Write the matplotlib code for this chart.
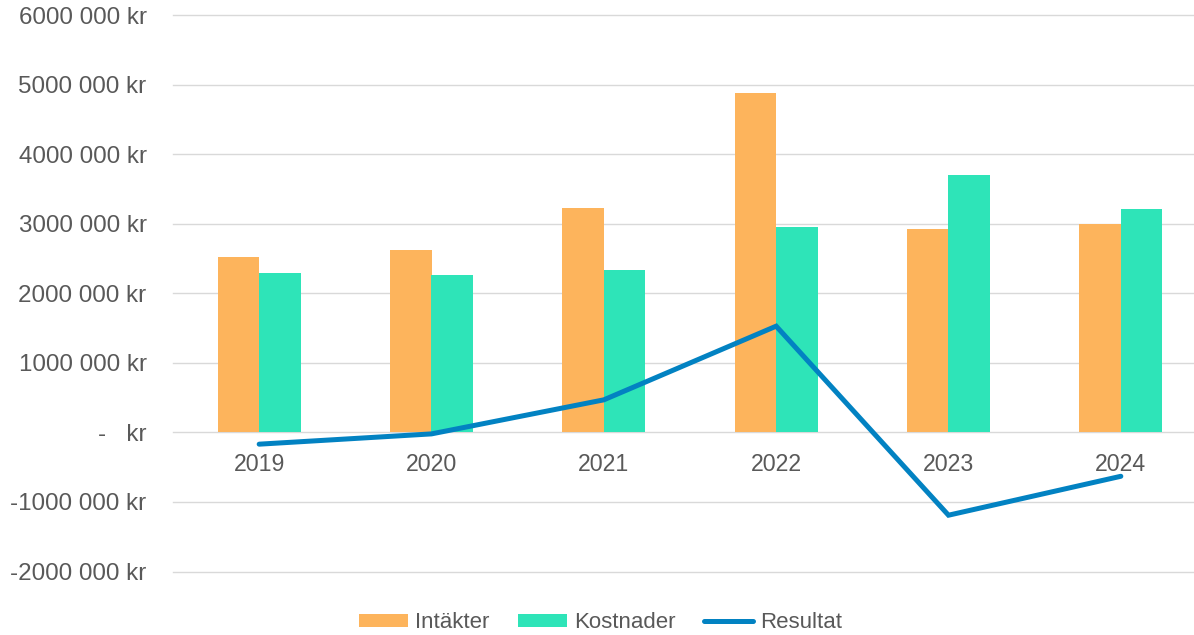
import matplotlib.pyplot as plt
import numpy as np
from matplotlib.ticker import FuncFormatter, MultipleLocator

plt.rcParams['font.family'] = ['Liberation Sans', 'DejaVu Sans']

# data
years = ['2019', '2020', '2021', '2022', '2023', '2024']
intakter = [2518000, 2633000, 3237000, 4878000, 2921000, 3007000]
kostnader = [2288000, 2259000, 2345000, 2950000, 3698000, 3209000]
resultat = [-168000, -20000, 470000, 1530000, -1190000, -630000]

c_int = '#FDB45C'
c_kost = '#2EE4B8'
c_res = '#0282C2'
txt = '#595959'


def kr_fmt(v, pos):
    v = int(round(v))
    if v == 0:
        return '-   kr'
    sign = '-' if v < 0 else ''
    v = abs(v)
    return '%s%d %03d kr' % (sign, v // 1000, v % 1000)


fig = plt.figure(figsize=(11.94, 6.35), dpi=100)
# plot area runs a bit past the right edge of the figure, like the original
ax = fig.add_axes([173 / 1194, 0.1, (1207 - 173) / 1194, 0.8756])

x = np.arange(len(years))
w = 0.24
b1 = ax.bar(x - w / 2, intakter, w, color=c_int, label='Intäkter', zorder=2)
b2 = ax.bar(x + w / 2, kostnader, w, color=c_kost, label='Kostnader', zorder=2)
l1, = ax.plot(x, resultat, color=c_res, lw=3.6, solid_capstyle='round',
              solid_joinstyle='miter', label='Resultat', zorder=3)

ax.set_xlim(-0.5, 5.5)
ax.set_ylim(-2000000, 6000000)
ax.yaxis.set_major_locator(MultipleLocator(1000000))
ax.yaxis.set_major_formatter(FuncFormatter(kr_fmt))
ax.grid(axis='y', color='#D9D9D9', lw=1.0, zorder=0)
for gl in ax.get_ygridlines():
    gl.set_clip_on(False)

for s in ['top', 'right', 'left']:
    ax.spines[s].set_visible(False)
ax.spines['bottom'].set_position(('data', 0))
ax.spines['bottom'].set_visible(False)

ax.set_xticks(x)
ax.set_xticklabels(years)
ax.tick_params(axis='x', length=0, pad=15, labelsize=16.7, labelcolor=txt)
ax.tick_params(axis='y', length=0, pad=19, labelsize=17.4, labelcolor=txt)

leg = fig.legend([b1, b2, l1], ['Intäkter', 'Kostnader', 'Resultat'],
                 loc='center', bbox_to_anchor=(0.503, 12 / 635), ncol=3,
                 frameon=False, fontsize=16, handlelength=2.2,
                 handleheight=0.55, handletextpad=0.3, columnspacing=1.3)
for t in leg.get_texts():
    t.set_color(txt)

fig.savefig('out.png', dpi=100)
